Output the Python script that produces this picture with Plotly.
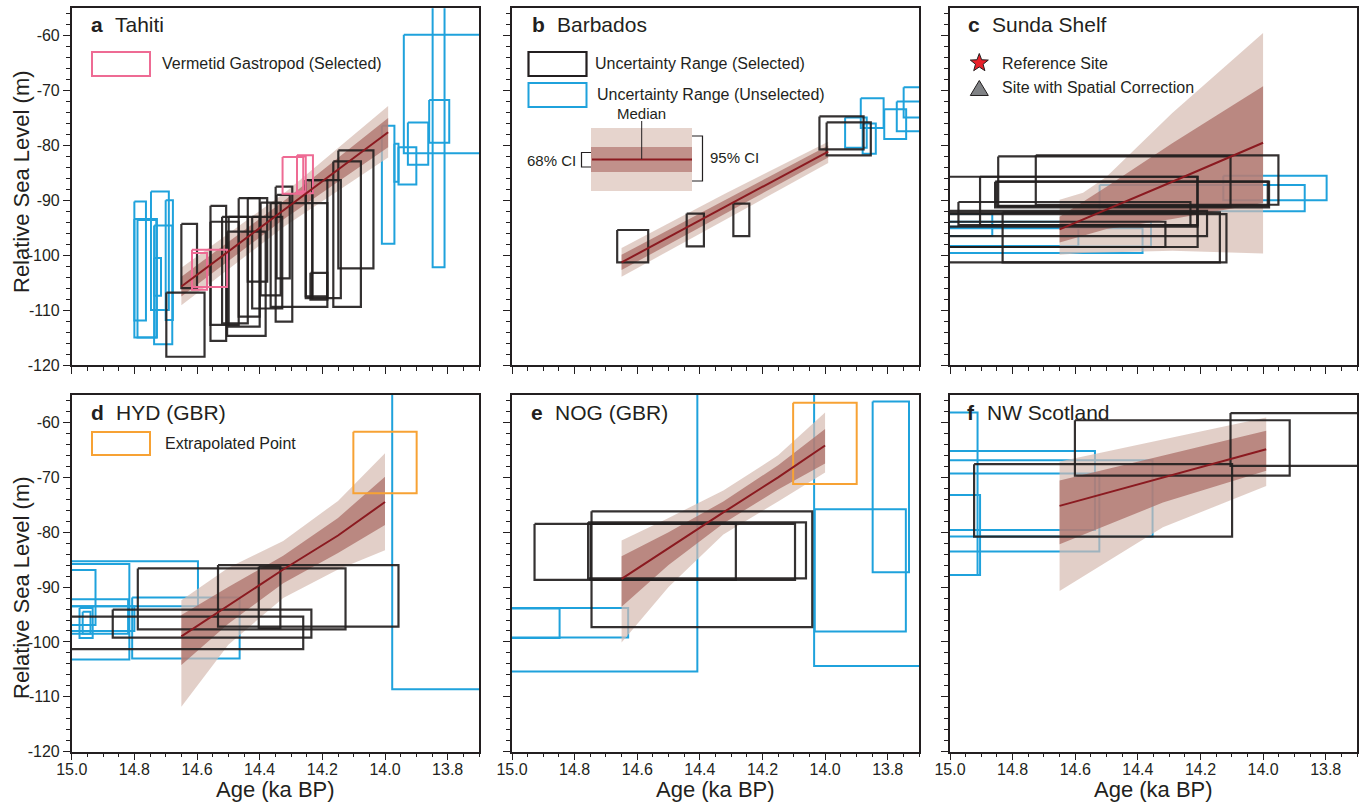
import math
import plotly.graph_objects as go

W, H = 1361, 804
BLACK = "#231f20"
BLUE = "#1fa2dc"
PINK = "#ee6b94"
ORANGE = "#f7a234"
MEDIAN = "#8b1a20"
LIGHT = "rgba(214,186,176,0.70)"
DARK = "rgba(170,108,101,0.72)"
FONT = "Arial, 'Liberation Sans', Helvetica, sans-serif"

# ---------------- data: rectangles (age_old, age_young, rsl_top, rsl_bottom) ----------------
TAHITI_SELECTED = [
    (14.650, 14.600, -94.3, -106.0), (14.698, 14.576, -106.8, -118.5),
    (14.557, 14.507, -91.0, -115.6), (14.557, 14.467, -93.9, -112.7),
    (14.520, 14.438, -93.0, -112.4), (14.499, 14.400, -93.0, -113.0),
    (14.504, 14.381, -95.7, -114.7), (14.467, 14.400, -89.6, -111.2),
    (14.438, 14.376, -89.6, -104.8), (14.424, 14.328, -93.0, -109.7),
    (14.397, 14.333, -90.4, -107.3), (14.349, 14.296, -87.5, -112.1),
    (14.346, 14.304, -89.0, -104.2), (14.365, 14.184, -90.5, -109.4),
    (14.253, 14.232, -86.3, -107.8), (14.253, 14.184, -86.3, -107.5),
    (14.232, 14.141, -86.3, -107.8), (14.238, 14.184, -103.2, -108.1),
    (14.165, 14.077, -82.9, -109.4), (14.149, 14.037, -80.9, -102.4),
]
TAHITI_UNSELECTED = [
    (14.800, 14.763, -90.2, -111.9), (14.800, 14.728, -93.4, -115.0),
    (14.790, 14.730, -93.6, -115.0), (14.747, 14.690, -88.4, -110.0),
    (14.737, 14.715, -100.5, -107.4), (14.737, 14.679, -94.6, -116.2),
    (14.700, 14.677, -90.0, -111.8), (14.010, 13.970, -76.4, -97.9),
    (13.970, 13.957, -79.7, -86.6), (13.957, 13.900, -80.3, -87.1),
    (13.927, 13.862, -75.8, -83.5), (13.940, 13.650, -59.8, -81.4),
    (13.859, 13.795, -71.7, -79.5), (13.848, 13.810, -50.0, -102.2),
]
TAHITI_VERMETID = [
    (14.616, 14.568, -99.6, -106.3), (14.616, 14.504, -99.0, -105.8),
    (14.327, 14.261, -82.1, -88.8), (14.281, 14.230, -81.8, -88.7),
    (14.281, 14.253, -82.0, -88.4),
]
BARBADOS_SELECTED = [
    (14.664, 14.565, -95.4, -101.3), (14.442, 14.387, -92.4, -98.4),
    (14.293, 14.242, -90.6, -96.5), (14.018, 13.877, -74.7, -80.7),
    (13.995, 13.854, -75.8, -81.8),
]
BARBADOS_UNSELECTED = [
    (13.936, 13.867, -74.9, -80.4), (13.886, 13.813, -71.4, -76.8),
    (13.880, 13.838, -76.0, -81.5), (13.811, 13.741, -73.4, -78.8),
    (13.771, 13.680, -72.0, -77.4), (13.749, 13.650, -69.4, -74.9),
]
SUNDA_SELECTED = [
    (14.846, 14.104, -82.0, -91.1), (14.726, 13.951, -81.8, -90.8),
    (15.050, 14.210, -85.7, -94.8), (14.904, 14.209, -85.7, -94.5),
    (14.856, 13.981, -86.6, -91.3), (14.851, 13.985, -86.6, -91.0),
    (14.973, 14.232, -90.3, -94.5), (15.050, 14.179, -91.9, -96.5),
    (15.050, 14.209, -92.3, -98.5), (14.832, 14.138, -92.2, -101.3),
    (15.050, 14.117, -92.5, -101.3), (15.050, 14.312, -93.9, -98.5),
]
SUNDA_UNSELECTED = [
    (14.127, 13.797, -85.5, -90.0), (14.522, 13.867, -87.2, -92.0),
    (15.050, 14.865, -92.5, -96.5), (15.050, 14.358, -93.9, -98.4),
    (15.050, 14.385, -95.1, -99.6), (15.050, 14.590, -94.8, -98.3),
]
HYD_SELECTED = [
    (14.789, 14.126, -86.6, -97.7), (14.533, 13.957, -86.0, -97.2),
    (14.403, 14.334, -86.3, -97.5), (14.869, 14.235, -94.1, -99.2),
    (15.050, 14.261, -95.4, -101.3),
]
HYD_UNSELECTED = [
    (15.050, 14.597, -85.3, -93.5), (15.050, 14.816, -85.8, -103.2),
    (14.807, 14.464, -91.9, -103.0), (15.050, 14.924, -86.9, -96.9),
    (15.050, 14.820, -92.2, -98.5), (14.975, 14.933, -93.8, -99.3),
    (14.965, 14.940, -94.5, -98.5), (15.050, 14.800, -93.5, -98.0),
    (13.977, 13.650, -50.0, -108.6),
]
HYD_EXTRAPOLATED = [(14.101, 13.899, -61.7, -72.9)]
NOG_SELECTED = [
    (14.928, 14.285, -78.5, -88.7), (14.757, 14.061, -78.2, -88.4),
    (14.749, 14.096, -78.5, -88.7), (14.746, 14.041, -76.2, -97.3),
]
NOG_UNSELECTED = [
    (15.050, 14.408, -50.0, -105.4), (15.050, 14.848, -93.9, -99.3),
    (15.050, 14.629, -93.8, -99.2), (14.035, 13.650, -50.0, -104.4),
    (14.033, 13.742, -75.8, -98.1), (13.848, 13.732, -56.2, -87.3),
]
NOG_EXTRAPOLATED = [(14.102, 13.899, -56.4, -71.2)]
SCOT_SELECTED = [
    (14.923, 14.099, -67.6, -80.8), (14.601, 13.915, -59.6, -69.7),
    (14.104, 13.650, -58.3, -67.9),
]
SCOT_UNSELECTED = [
    (15.050, 14.912, -58.2, -87.8), (15.050, 14.904, -73.2, -87.8),
    (15.050, 14.537, -65.2, -79.6), (15.050, 14.523, -69.3, -83.5),
    (15.050, 14.353, -66.9, -80.8),
]

# ---------------- data: fitted sea-level curves ----------------
A_AGE = [14.65, 14.32, 13.99]
A_MED = [-105.7, -91.6, -77.6]
A_HI95 = [-102.3, -88.6, -72.8]
A_LO95 = [-109.1, -94.7, -82.2]
A_HI68 = [-103.9, -90.0, -75.0]
A_LO68 = [-107.5, -93.3, -80.3]

B_AGE = [14.65, 14.32, 13.99]
B_MED = [-101.3, -91.2, -81.1]
B_HI95 = [-98.7, -88.8, -79.3]
B_LO95 = [-103.9, -93.6, -83.2]
B_HI68 = [-99.9, -90.0, -80.0]
B_LO68 = [-102.7, -92.4, -82.2]

C_AGE = [14.65, 14.575, 14.50, 14.29, 14.0]
C_MED = [-95.3, -93.5, -91.7, -86.6, -79.5]
C_HI95 = [-89.9, -88.6, -85.7, -74.1, -59.5]
C_LO95 = [-99.9, -99.6, -99.4, -99.2, -99.7]
C_HI68 = [-93.0, -90.3, -87.5, -79.6, -69.2]
C_LO68 = [-97.7, -96.4, -95.2, -93.4, -90.5]

D_AGE = [14.65, 14.5, 14.325, 14.15, 14.0]
D_MED = [-99.0, -93.3, -86.8, -80.6, -74.5]
D_HI95 = [-92.4, -86.5, -81.6, -74.3, -65.6]
D_LO95 = [-111.8, -100.5, -92.0, -86.8, -83.3]
D_HI68 = [-95.1, -90.0, -84.3, -77.4, -69.9]
D_LO68 = [-104.2, -96.7, -89.3, -83.8, -78.7]

E_AGE = [14.65, 14.5, 14.325, 14.15, 14.0]
E_MED = [-88.5, -82.9, -76.4, -70.0, -64.2]
E_HI95 = [-81.5, -77.4, -72.4, -66.0, -58.2]
E_LO95 = [-100.1, -90.0, -80.4, -74.4, -69.1]
E_HI68 = [-84.4, -80.0, -74.4, -67.8, -61.2]
E_LO68 = [-93.6, -86.0, -78.4, -72.2, -67.5]

F_AGE = [14.65, 14.32, 13.99]
F_MED = [-75.2, -70.1, -64.9]
F_HI95 = [-67.1, -63.1, -59.1]
F_LO95 = [-90.7, -79.1, -71.6]
F_HI68 = [-70.6, -66.1, -61.5]
F_LO68 = [-82.2, -74.6, -68.8]

X_TICKS = [15.0, 14.8, 14.6, 14.4, 14.2, 14.0, 13.8]
X_TICK_LABELS = ["15.0", "14.8", "14.6", "14.4", "14.2", "14.0", "13.8"]
Y_TICKS = [-60, -70, -80, -90, -100, -110, -120]
Y_TICK_LABELS = ["-60", "-70", "-80", "-90", "-100", "-110", "-120"]

PANEL_LETTERS = ["a", "b", "c", "d", "e", "f"]
PANEL_NAMES = ["Tahiti", "Barbados", "Sunda Shelf", "HYD (GBR)", "NOG (GBR)", "NW Scotland"]

# ---------------- layout geometry (pixels) ----------------
COLS = [(71.7, 479.0), (512.0, 919.0), (950.0, 1357.0)]
ROWS = [(8.3, 365.0), (395.0, 751.7)]


def px(x):
    return x / W


def py(y):
    return 1 - y / H


fig = go.Figure()


def add_rects(rects, color, sfx, width=2.0):
    for a0, a1, y0, y1 in rects:
        fig.add_trace(go.Scatter(
            x=[a0, a1, a1, a0, a0], y=[y0, y0, y1, y1, y0], mode="lines",
            line=dict(color=color, width=width), xaxis="x" + sfx, yaxis="y" + sfx,
            hoverinfo="skip", showlegend=False))


def add_band(age, med, hi95, lo95, hi68, lo68, sfx):
    for hi, lo, col in ((hi95, lo95, LIGHT), (hi68, lo68, DARK)):
        fig.add_trace(go.Scatter(
            x=list(age) + list(age)[::-1], y=list(hi) + list(lo)[::-1],
            mode="lines", fill="toself", fillcolor=col, line=dict(width=0),
            xaxis="x" + sfx, yaxis="y" + sfx, hoverinfo="skip", showlegend=False))


def add_median(age, med, sfx):
    fig.add_trace(go.Scatter(
        x=age, y=med, mode="lines", line=dict(color=MEDIAN, width=2),
        xaxis="x" + sfx, yaxis="y" + sfx, hoverinfo="skip", showlegend=False))


panels = [
    ("", TAHITI_UNSELECTED, (A_AGE, A_MED, A_HI95, A_LO95, A_HI68, A_LO68), TAHITI_SELECTED, TAHITI_VERMETID, PINK),
    ("2", BARBADOS_UNSELECTED, (B_AGE, B_MED, B_HI95, B_LO95, B_HI68, B_LO68), BARBADOS_SELECTED, [], PINK),
    ("3", SUNDA_UNSELECTED, (C_AGE, C_MED, C_HI95, C_LO95, C_HI68, C_LO68), SUNDA_SELECTED, [], PINK),
    ("4", HYD_UNSELECTED, (D_AGE, D_MED, D_HI95, D_LO95, D_HI68, D_LO68), HYD_SELECTED, HYD_EXTRAPOLATED, ORANGE),
    ("5", NOG_UNSELECTED, (E_AGE, E_MED, E_HI95, E_LO95, E_HI68, E_LO68), NOG_SELECTED, NOG_EXTRAPOLATED, ORANGE),
    ("6", SCOT_UNSELECTED, (F_AGE, F_MED, F_HI95, F_LO95, F_HI68, F_LO68), SCOT_SELECTED, [], PINK),
]

for sfx, unsel, band, sel, extra, extra_col in panels:
    add_rects(unsel, BLUE, sfx, 2.0)
    add_band(*band, sfx)
    add_rects(sel, "rgba(35,31,32,0.92)", sfx, 2.2)
    add_rects(extra, extra_col, sfx, 2.0)
    add_median(band[0], band[1], sfx)

layout = dict(
    template="none",
    width=W, height=H, margin=dict(l=0, r=0, t=0, b=0, pad=0, autoexpand=False),
    paper_bgcolor="white", plot_bgcolor="white", showlegend=False,
    font=dict(family=FONT, color=BLACK, size=15),
)

for i in range(6):
    r, c = divmod(i, 3)
    sfx = "" if i == 0 else str(i + 1)
    x0, x1 = COLS[c]
    y0, y1 = ROWS[r]
    common = dict(
        showline=True, linecolor=BLACK, linewidth=1.5, mirror=True, automargin=False,
        showgrid=False, zeroline=False, ticks="outside", ticklen=7,
        tickwidth=1.3, tickcolor=BLACK, tickfont=dict(size=16, color=BLACK, family=FONT),
    )
    layout["xaxis" + sfx] = dict(
        common, domain=[px(x0), px(x1)], anchor="y" + sfx, range=[15.0, 13.7],
        tickmode="array", tickvals=X_TICKS, ticktext=X_TICK_LABELS,
        showticklabels=(r == 1), ticklabelstandoff=-5,
        minor=dict(tick0=15.0, dtick=0.05, ticks="outside", ticklen=4, tickwidth=1, tickcolor=BLACK, showgrid=False),
    )
    layout["yaxis" + sfx] = dict(
        common, domain=[py(y1), py(y0)], anchor="x" + sfx, range=[-120, -55],
        tickmode="array", tickvals=Y_TICKS, ticktext=Y_TICK_LABELS,
        showticklabels=(c == 0),
        minor=dict(tick0=-120, dtick=2, ticks="outside", ticklen=4, tickwidth=1, tickcolor=BLACK, showgrid=False),
    )

fig.update_layout(**layout)

ann = []
shapes = []


def text(x, y, s, size=16, xanchor="left", angle=0, bold=False):
    ann.append(dict(x=px(x), y=py(y), xref="paper", yref="paper", text=("<b>%s</b>" % s) if bold else s,
                    showarrow=False, xanchor=xanchor, yanchor="middle", textangle=angle,
                    font=dict(size=size, color=BLACK, family=FONT)))


# panel titles
LETTER_POS = [(89, 25), (530, 25), (966, 25), (89, 412), (529, 412), (965, 412)]
NAME_POS = [(113, 25), (555, 25), (990, 25), (114, 412), (553, 412), (985, 412)]
for k in range(6):
    text(LETTER_POS[k][0], LETTER_POS[k][1], PANEL_LETTERS[k], size=21, bold=True)
    text(NAME_POS[k][0], NAME_POS[k][1], PANEL_NAMES[k], size=21)

# axis titles
text(21, 182, "Relative Sea Level (m)", size=22, xanchor="center", angle=-90)
text(21, 588, "Relative Sea Level (m)", size=22, xanchor="center", angle=-90)
for c in range(3):
    text((COLS[c][0] + COLS[c][1]) / 2, 789, "Age (ka BP)", size=22, xanchor="center")


def rect_shape(x0, y0, x1, y1, line=None, fill=None, lw=2):
    shapes.append(dict(type="rect", xref="paper", yref="paper", x0=px(x0), x1=px(x1), y0=py(y1), y1=py(y0),
                       line=dict(color=line or "rgba(0,0,0,0)", width=lw if line else 0),
                       fillcolor=fill or "rgba(0,0,0,0)", layer="above"))


def path_shape(points, line=BLACK, lw=1.2, fill=None, close=False):
    d = "M " + " L ".join("%.5f,%.5f" % (px(x), py(y)) for x, y in points)
    if close:
        d += " Z"
    shapes.append(dict(type="path", xref="paper", yref="paper", path=d,
                       line=dict(color=line, width=lw), fillcolor=fill or "rgba(0,0,0,0)", layer="above"))


# legend a
rect_shape(92, 52, 150, 76, line=PINK)
text(160, 64, "Vermetid Gastropod (Selected)")
# legend b
rect_shape(528.5, 52, 586.5, 76, line=BLACK, lw=2.2)
text(593, 64, "Uncertainty Range (Selected)")
rect_shape(528.5, 83, 586.5, 107, line=BLUE)
text(595, 95, "Uncertainty Range (Unselected)")
# CI inset in b
rect_shape(591, 128, 692, 191, fill="#e6d4cd")
rect_shape(591, 147, 692, 172, fill="#c1918b")
path_shape([(592, 159.5), (692, 159.5)], line=MEDIAN, lw=2.2)
path_shape([(641.7, 121), (641.7, 159)], line=BLACK, lw=1)
path_shape([(591, 152.5), (581.5, 152.5), (581.5, 167), (591, 167)], lw=1.2)
path_shape([(692, 136), (702.5, 136), (702.5, 181), (692, 181)], lw=1.2)
text(578, 160, "68% CI", size=15, xanchor="right")
text(708, 158, "95% CI", size=15)
text(641.7, 114, "Median", size=15, xanchor="center")
# legend c
cx, cy = 979.3, 63.0
star = []
for k in range(10):
    ang = math.pi / 2 + k * math.pi / 5
    rad = 9.5 if k % 2 == 0 else 4.0
    star.append((cx + rad * math.cos(ang), cy - rad * math.sin(ang)))
path_shape(star, line=BLACK, lw=1, fill="#e8212a", close=True)
path_shape([(979.3, 80.5), (970.3, 95.5), (988.3, 95.5)], line=BLACK, lw=1, fill="#808285", close=True)
text(1000, 63, "Reference Site")
text(1000, 88, "Site with Spatial Correction")
# legend d
rect_shape(92, 432, 150, 455, line=ORANGE)
text(163, 443, "Extrapolated Point")

fig.update_layout(annotations=ann, shapes=shapes)
fig.write_html("out.html")
